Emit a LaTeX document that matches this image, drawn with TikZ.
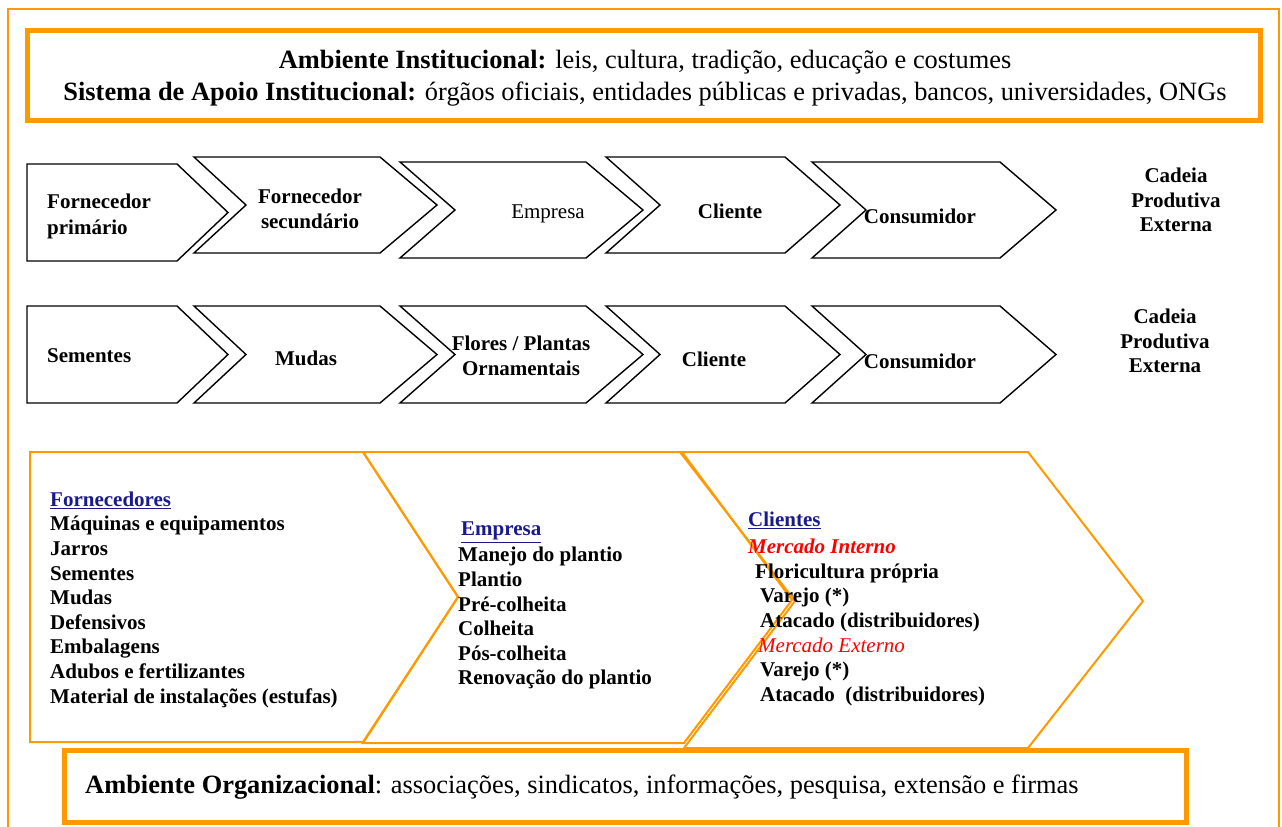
\documentclass[tikz,border=0pt]{standalone}
\usepackage{fontspec}
\setmainfont{Liberation Serif}
\definecolor{frameorange}{HTML}{FF9900}
\definecolor{headblue}{HTML}{1A1A8C}
\definecolor{mktred}{HTML}{FF0000}
\begin{document}
\begin{tikzpicture}[x=1pt,y=-1pt,
  chev/.style={draw=black, line width=1.4pt, line join=miter},
  ochev/.style={draw=frameorange, line width=2pt, line join=miter},
  thickbox/.style={draw=frameorange, line width=5pt},
  lbl/.style={font=\fontsize{21}{24.6}\selectfont\bfseries, inner sep=0pt},
  plain/.style={font=\fontsize{21}{24.6}\selectfont, inner sep=0pt},
  listtext/.style={lbl, align=left, anchor=north west},
  boxtext/.style={font=\fontsize{26.4}{32}\selectfont, inner sep=0pt}]
\useasboundingbox (0,0) rectangle (1282,827);

% outer frame
\draw[frameorange, line width=2pt] (8,840) -- (8,9) -- (1279,9) -- (1279,840);

% institutional environment
\draw[thickbox] (27,30.5) rectangle (1260,120.5);
\node[boxtext, align=center] (inst) at (645,78)
  {\textbf{Ambiente Institucional:} leis, cultura, tradição, educação e costumes\\
   \textbf{Sistema de Apoio Institucional:} órgãos oficiais, entidades públicas e privadas, bancos, universidades, ONGs};

% first external chain
\draw[chev] (27,164) -- (177,164) -- (228,212.5) -- (177,261) -- (27,261) -- cycle;
\draw[chev] (194,157) -- (380,157) -- (437,205) -- (380,253) -- (194,253) -- (246,205) -- cycle;
\draw[chev] (400,162) -- (586,162) -- (643,210) -- (586,258) -- (400,258) -- (455,210) -- cycle;
\draw[chev] (606,157) -- (785,157) -- (840,205) -- (785,253) -- (606,253) -- (660,205) -- cycle;
\draw[chev] (812,162) -- (1000,162) -- (1056,210) -- (1000,258) -- (812,258) -- (866,210) -- cycle;

\node[lbl, align=left, anchor=north west, font=\fontsize{21}{26}\selectfont\bfseries] (fp) at (47,194) {Fornecedor\\primário};
\node[lbl, align=center] (fs) at (310,209) {Fornecedor\\secundário};
\node[plain] (emp1) at (548,214) {Empresa};
\node[lbl] (cli1) at (730,211) {Cliente};
\node[lbl] (con1) at (920,216) {Consumidor};
\node[lbl, align=center] (cad1) at (1176,200) {Cadeia\\Produtiva\\Externa};

% second external chain
\draw[chev] (27,306) -- (177,306) -- (228,354.5) -- (177,403) -- (27,403) -- cycle;
\draw[chev] (194,306) -- (380,306) -- (437,354.5) -- (380,403) -- (194,403) -- (246,354.5) -- cycle;
\draw[chev] (400,306) -- (586,306) -- (643,354.5) -- (586,403) -- (400,403) -- (455,354.5) -- cycle;
\draw[chev] (606,306) -- (785,306) -- (840,354.5) -- (785,403) -- (606,403) -- (660,354.5) -- cycle;
\draw[chev] (812,306) -- (1000,306) -- (1056,354.5) -- (1000,403) -- (812,403) -- (866,354.5) -- cycle;

\node[lbl, anchor=west] (sem) at (47,356) {Sementes};
\node[lbl] (mud) at (306,358) {Mudas};
\node[lbl, align=center] (flo) at (521,356) {Flores / Plantas\\Ornamentais};
\node[lbl] (cli2) at (714,359) {Cliente};
\node[lbl] (con2) at (920,361) {Consumidor};
\node[lbl, align=center] (cad2) at (1165,341) {Cadeia\\Produtiva\\Externa};

% internal chain
\draw[ochev] (30,452) -- (363,452) -- (458,597) -- (363,742) -- (30,742) -- cycle;
\draw[ochev] (363,452) -- (682,452) -- (792,600) -- (684,743) -- (363,743) -- (458,597) -- cycle;
\draw[ochev] (680,452) -- (1028,452) -- (1143,601) -- (1028,748) -- (684,748) -- (795,601) -- cycle;

\node[listtext] (forn) at (50,491.5)
  {\textcolor{headblue}{\underline{Fornecedores}}\\
   Máquinas e equipamentos\\ Jarros\\ Sementes\\ Mudas\\ Defensivos\\
   Embalagens\\ Adubos e fertilizantes\\ Material de instalações (estufas)};

\node[listtext] (empr) at (458,522)
  {\hspace*{3pt}\textcolor{headblue}{\underline{Empresa}}\\[1.4pt]
   Manejo do plantio\\ Plantio\\ Pré-colheita\\ Colheita\\ Pós-colheita\\
   Renovação do plantio};

\node[listtext] (clie) at (748,512)
  {\textcolor{headblue}{\underline{Clientes}}\\[2.4pt]
   \textcolor{mktred}{\itshape Mercado Interno}\\
   \hspace*{7pt}Floricultura própria\\
   \hspace*{12pt}Varejo (*)\\
   \hspace*{12pt}Atacado (distribuidores)\\
   \hspace*{10pt}\textcolor{mktred}{\mdseries\itshape Mercado Externo}\\
   \hspace*{12pt}Varejo (*)\\
   \hspace*{12pt}Atacado\ \ (distribuidores)};

% organizational environment
\draw[thickbox] (64,750) rectangle (1186,822);
\node[boxtext, anchor=west] (org) at (85,787)
  {\textbf{Ambiente Organizacional}: associações, sindicatos, informações, pesquisa, extensão e firmas};
\end{tikzpicture}
\end{document}
